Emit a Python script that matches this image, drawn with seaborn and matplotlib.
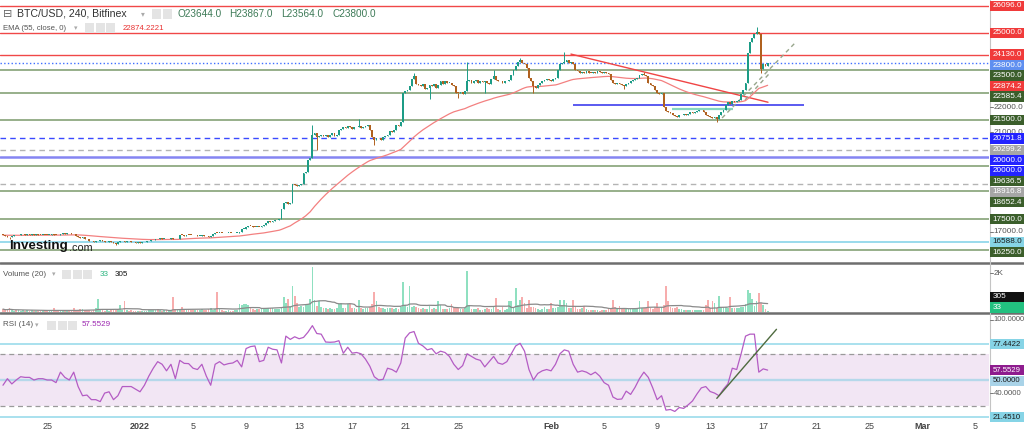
import numpy as np
import pandas as pd
import matplotlib
matplotlib.use("Agg")
import matplotlib.pyplot as plt
import matplotlib.dates as mdates
from matplotlib.patches import Rectangle
from matplotlib.lines import Line2D
import seaborn as sns

# ------------------------------------------------------------------ data
start_time = "2021-12-21 16:00"     # first 4h candle
first_open = 16860

# 4h closes, one row per day
close_rows = [
    [16850, 16830],                                   # Dec 21
    [16790, 16760, 16820, 16850, 16840, 16860],       # Dec 22
    [16880, 16900, 16870, 16890, 16870, 16890],
    [16870, 16880, 16860, 16850, 16870, 16860],
    [16850, 16870, 16880, 16860, 16850, 16840],
    [16880, 16920, 16900, 16950, 16930, 16910],
    [16880, 16820, 16780, 16720, 16760, 16700],
    [16680, 16620, 16600, 16560, 16600, 16620],
    [16640, 16600, 16560, 16580, 16620, 16590],
    [16540, 16500, 16560, 16600, 16610, 16580],
    [16620, 16600, 16580, 16560, 16540, 16560],       # Dec 31
    [16540, 16560, 16580, 16600, 16620, 16640],       # Jan 1
    [16660, 16700, 16680, 16720, 16690, 16700],
    [16680, 16700, 16720, 16690, 16680, 16700],
    [16860, 16850, 16830, 16870, 16860, 16850],
    [16840, 16860, 16820, 16830, 16840, 16820],
    [16800, 16760, 16800, 16900, 16950, 16940],
    [16950, 16940, 16930, 16940, 16950, 16940],
    [16930, 16940, 16960, 17000, 17100, 17120],
    [17200, 17240, 17220, 17200, 17180, 17200],
    [17180, 17210, 17250, 17350, 17420, 17400],
    [17420, 17450, 17470, 17500, 17900, 18150],       # Jan 11
    [18200, 18100, 18150, 18900, 18880, 18850],
    [18870, 18900, 19350, 19400, 19900, 19950],
    [20900, 20950, 20800, 20850, 20900, 20850],
    [20900, 20820, 20880, 20950, 20860, 20900],
    [21100, 21150, 21200, 21170, 21250, 21200],
    [21150, 21220, 21200, 21250, 21180, 21200],
    [21250, 21300, 21100, 20800, 20700, 20780],
    [20750, 20700, 20800, 20850, 20900, 21050],
    [21000, 21100, 21300, 21250, 21400, 22600],
    [22650, 22700, 22850, 23150, 23250, 22950],       # Jan 21
    [22900, 22850, 22950, 22750, 22800, 22900],
    [22850, 22950, 22800, 22900, 23050, 22950],
    [23050, 22980, 23000, 22900, 22850, 22600],
    [22580, 22620, 22560, 22650, 23080, 23100],
    [23000, 23050, 23100, 22980, 23050, 23020],
    [23080, 23000, 22950, 23150, 23250, 23100],
    [23050, 23080, 23000, 23050, 23080, 23100],
    [23300, 23500, 23650, 23850, 23900, 23800],
    [23750, 23600, 23200, 23050, 22850, 22800],
    [22900, 23000, 23050, 23100, 23150, 23100],       # Jan 31
    [23080, 23150, 23200, 23500, 23750, 23800],       # Feb 1
    [23850, 23900, 23800, 23850, 23750, 23500],
    [23450, 23400, 23420, 23380, 23450, 23400],
    [23380, 23420, 23400, 23450, 23420, 23400],
    [23420, 23380, 23350, 23100, 23000, 22950],
    [23000, 22950, 22900, 22850, 22950, 23000],
    [23050, 23100, 23150, 23200, 23300, 23350],
    [23300, 23250, 23000, 22900, 22850, 22700],
    [22600, 22550, 22600, 22000, 21850, 21800],
    [21780, 21700, 21650, 21620, 21680, 21700],       # Feb 10
    [21720, 21700, 21750, 21800, 21780, 21820],
    [21850, 21880, 21900, 21820, 21700, 21650],
    [21600, 21580, 21620, 21550, 21700, 21800],
    [21900, 22100, 22200, 22150, 22250, 22200],
    [22250, 22300, 22550, 22700, 22980, 24200],
    [24650, 24800, 24950, 25050, 24950, 23550],       # Feb 16
    [23750, 23650, 23800],                            # Feb 17
]

wick_high = {
    "2022-01-14 00:00": 21290, "2022-01-17 12:00": 21530,
    "2022-01-21 16:00": 23400, "2022-01-25 16:00": 23830,
    "2022-01-27 16:00": 23510, "2022-01-29 16:00": 23990,
    "2022-02-02 00:00": 24250, "2022-02-08 00:00": 23440,
    "2022-02-16 12:00": 25250,
}
wick_low = {
    "2021-12-22 04:00": 16700, "2021-12-30 04:00": 16460,
    "2022-01-14 08:00": 20300, "2022-01-18 16:00": 20490,
    "2022-01-22 20:00": 22340, "2022-01-25 00:00": 22380,
    "2022-01-27 00:00": 22580, "2022-01-30 16:00": 22580,
    "2022-02-06 12:00": 22750, "2022-02-13 12:00": 21420,
    "2022-02-16 20:00": 23400,
}

# 4h volume, one row per day
volume_rows = [
    [150, 90],
    [120, 200, 80, 60, 110, 90],
    [70, 100, 60, 90, 50, 80],
    [60, 40, 70, 50, 60, 90],
    [50, 80, 60, 180, 70, 60],
    [90, 60, 100, 70, 50, 80],
    [190, 90, 70, 160, 150, 90],
    [80, 120, 60, 100, 210, 680],
    [140, 90, 70, 100, 60, 80],
    [120, 90, 150, 360, 110, 580],
    [90, 60, 80, 50, 70, 60],
    [50, 40, 70, 60, 80, 90],
    [100, 80, 130, 90, 70, 110],
    [90, 120, 80, 750, 140, 100],
    [160, 250, 90, 110, 130, 80],
    [90, 120, 100, 80, 150, 110],
    [100, 140, 180, 120, 160, 1030],
    [150, 90, 70, 60, 80, 70],
    [60, 90, 120, 400, 380, 420],
    [400, 360, 180, 150, 120, 140],
    [130, 160, 150, 180, 190, 220],
    [200, 150, 170, 160, 240, 750],
    [450, 680, 300, 1330, 830, 450],
    [260, 300, 240, 350, 420, 680],
    [2300, 630, 320, 580, 260, 200],
    [180, 150, 220, 140, 160, 190],
    [400, 450, 230, 200, 400, 400],
    [220, 180, 160, 630, 200, 170],
    [180, 210, 260, 400, 1050, 580],
    [240, 180, 200, 160, 190, 230],
    [200, 150, 220, 170, 240, 1530],
    [360, 280, 1310, 270, 330, 260],
    [200, 140, 180, 150, 170, 300],
    [160, 190, 150, 540, 360, 170],
    [140, 160, 180, 400, 200, 210],
    [180, 150, 130, 220, 2100, 360],
    [160, 140, 150, 180, 120, 100],
    [130, 180, 150, 140, 270, 720],
    [160, 120, 270, 100, 130, 540],
    [580, 200, 1220, 360, 630, 780],
    [450, 200, 630, 240, 270, 180],
    [150, 120, 160, 270, 140, 130],
    [450, 180, 200, 240, 630, 360],
    [630, 450, 220, 200, 630, 270],
    [160, 140, 180, 330, 150, 120],
    [100, 80, 110, 90, 70, 100],
    [90, 110, 130, 180, 630, 270],
    [180, 330, 150, 200, 140, 160],
    [150, 130, 170, 190, 540, 200],
    [230, 180, 540, 200, 170, 250],
    [450, 220, 240, 380, 1310, 540],
    [260, 180, 200, 270, 150, 160],
    [110, 90, 120, 100, 80, 90],
    [80, 100, 120, 110, 360, 630],
    [180, 540, 450, 200, 810, 260],
    [240, 280, 200, 750, 220, 230],
    [200, 220, 270, 240, 400, 1130],
    [990, 680, 300, 540, 990, 450],
    [360, 150, 33],
]

# RSI(14) read every 8 hours, one row per day
rsi_rows = [
    [46],
    [51, 47, 50], [52.5, 52, 52], [50, 51, 51], [50, 50, 48], [56, 52, 50],
    [56, 45, 38], [38.5, 35, 35], [33.5, 40, 41], [35, 38, 45], [45, 45, 43],
    [41, 46, 53], [59, 64, 62], [57, 62, 51], [65, 62.7, 62.5], [59, 58, 62],
    [53, 46, 62], [64, 61.5, 62.5], [63, 65, 60], [74, 75.5, 76], [64, 65, 75],
    [73.5, 73, 63], [83.5, 81, 83], [81.5, 82.5, 86.5], [91.5, 85.5, 85],
    [79, 78.8, 79], [80, 70.4, 75], [70.5, 71, 70], [66, 60.5, 52.5],
    [50, 50.5, 59], [58, 56, 63], [82, 86, 87], [78, 76, 73], [74, 70, 72],
    [71, 68, 62], [58, 61, 70], [68, 66, 65], [60, 64, 68], [63, 62, 64],
    [70, 76, 78], [72, 58, 50], [55, 57, 58],
    [57, 62, 70], [73, 72, 62], [56, 57, 56], [54, 56, 53], [48, 46, 37],
    [35.2, 35.5, 41.5], [39, 44.4, 51], [56, 52, 44], [35, 38, 27],
    [27.5, 26, 29], [28.3, 31, 34], [39.3, 44, 45], [41.2, 40, 38],
    [43, 47, 59], [58, 70, 83.5], [85, 85, 56],
    [58.5, 57.5529],
]

ohlc_text = ["O23644.0", "H23867.0", "L23564.0", "C23800.0"]
ema_last = 22874.2221
vol_last, vol_ma_last = 33, 305
rsi_last = 57.5529

# drawn horizontal levels on the price pane
price_levels = [26096, 25000, 24130, 23800, 23500, 22585.4, 21500, 20751.8,
                20299.2, 20000, 19636.5, 18916.8, 18652.4, 17500, 16588, 16250]
price_level_kind = ["red", "red", "red", "bdot", "green", "green", "green", "bdash",
                    "gdash", "blue", "green", "gdash", "green", "green", "cyan", "green"]

# right-hand price tags
price_tags = [26096, 25000, 24130, 23800, 23500, ema_last, 22585.4, 21500, 20751.8,
              20299.2, 20000, 20000, 19636.5, 18916.8, 18652.4, 17500, 16588, 16250]
price_tag_kind = ["red", "red", "red", "last", "dgreen", "red", "dgreen", "dgreen", "blue",
                  "gray", "blue", "blue", "dgreen", "gray", "dgreen", "dgreen", "cyan", "dgreen"]
plain_price_ticks = [22000, 21000, 17000]

# user-drawn objects (date, price)
support_segment = ("2022-02-02 16:00", "2022-02-20 01:00", 22100)
base_segment = ("2022-02-10 03:00", "2022-02-14 17:00", 21925)
falling_trend = [("2022-02-02 12:00", 24150), ("2022-02-17 08:40", 22210)]
rising_dashed = [("2022-02-13 21:30", 21575), ("2022-02-19 09:30", 24597)]
rising_dashed2 = [("2022-02-15 15:00", 22300), ("2022-02-17 12:00", 23388)]
rsi_trend = [("2022-02-13 12:00", 36), ("2022-02-18 00:00", 88.7)]

rsi_lines = [77.4422, 50, 21.451]
rsi_band = (30, 70)

x_tick_dates = ["2021-12-25", "2022-01-01", "2022-01-05", "2022-01-09", "2022-01-13",
                "2022-01-17", "2022-01-21", "2022-01-25", "2022-02-01", "2022-02-05",
                "2022-02-09", "2022-02-13", "2022-02-17", "2022-02-21", "2022-02-25",
                "2022-03-01", "2022-03-05"]
x_tick_labels = ["25", "2022", "5", "9", "13", "17", "21", "25", "Feb", "5", "9", "13",
                 "17", "21", "25", "Mar", "5"]

# ------------------------------------------------------------------ prep
sns.set_style("white")
plt.rcParams["font.family"] = ["Liberation Sans", "DejaVu Sans"]

closes = np.array([v for r in close_rows for v in r], dtype=float)
volumes = np.array([v for r in volume_rows for v in r], dtype=float)
rsi_vals = np.array([v for r in rsi_rows for v in r], dtype=float)
times = pd.date_range(start_time, periods=len(closes), freq="4h")
rsi_times = pd.date_range(start_time, periods=len(rsi_vals), freq="8h")
opens = np.r_[first_open, closes[:-1]]
highs = np.maximum(opens, closes)
lows = np.minimum(opens, closes)
for k, v in wick_high.items():
    i = times.get_loc(pd.Timestamp(k))
    highs[i] = max(highs[i], v)
for k, v in wick_low.items():
    i = times.get_loc(pd.Timestamp(k))
    lows[i] = min(lows[i], v)
bull = closes >= opens
xn = mdates.date2num(times)
rx = mdates.date2num(rsi_times)
ema = pd.Series(closes).ewm(span=55, adjust=False).mean().values
vol_ma = pd.Series(volumes).rolling(20, min_periods=1).mean().values

BULL, BEAR = "#1c9c86", "#b0611f"
VBULL, VBEAR = "#8fe0c0", "#f7adad"

W, H = 1024, 433
fig = plt.figure(figsize=(W / 100, H / 100), dpi=100)
fig.patch.set_facecolor("white")


def rect(x0, y0, x1, y1):
    return [x0 / W, 1 - y1 / H, (x1 - x0) / W, (y1 - y0) / H]


PLOT_R = 989
ax_p = fig.add_axes(rect(0, 0, PLOT_R, 262))
ax_v = fig.add_axes(rect(0, 263, PLOT_R, 312))
ax_r = fig.add_axes(rect(0, 314, PLOT_R, 420))

jan1 = mdates.date2num(pd.Timestamp("2022-01-01"))
PX_DAY = 13.26
xlim = (jan1 - 140 / PX_DAY, jan1 + (PLOT_R - 140) / PX_DAY)
PRICE_PX = 40.3
ylim_p = (25000 - (262 - 33) * PRICE_PX, 25000 + 33 * PRICE_PX)

# ------------------------------------------------------------------ price pane
line_styles = {
    "red": dict(color="#f04848", lw=1.0, ls="-"),
    "bdot": dict(color="#3f6fff", lw=1.0, ls=":"),
    "green": dict(color="#7b9a6b", lw=1.1, ls="-"),
    "bdash": dict(color="#3a4aff", lw=1.0, ls=(0, (4, 3))),
    "gdash": dict(color="#b4b4b4", lw=1.0, ls=(0, (4, 3))),
    "blue": dict(color="#8585f2", lw=1.8, ls="-"),
    "cyan": dict(color="#92d8ea", lw=1.3, ls="-"),
}
for lvl, kind in zip(price_levels, price_level_kind):
    ax_p.axhline(lvl, zorder=1, **line_styles[kind])

d = lambda s: mdates.date2num(pd.Timestamp(s))
ax_p.hlines(support_segment[2], d(support_segment[0]), d(support_segment[1]),
            color="#5a5af0", lw=1.4, zorder=2)
ax_p.hlines(base_segment[2], d(base_segment[0]), d(base_segment[1]),
            color="#86d6c0", lw=1.6, zorder=2)
ax_p.plot([d(p[0]) for p in falling_trend], [p[1] for p in falling_trend],
          color="#f04545", lw=1.0, zorder=2)
ax_p.plot([d(p[0]) for p in rising_dashed], [p[1] for p in rising_dashed],
          color="#98a68c", lw=1.0, ls=(0, (3, 2.5)), zorder=2)
ax_p.plot([d(p[0]) for p in rising_dashed2], [p[1] for p in rising_dashed2],
          color="#98a68c", lw=1.0, ls=(0, (3, 2.5)), zorder=2)

sns.lineplot(x=xn, y=ema, ax=ax_p, color="#f38080", lw=0.9, zorder=3)

cols = np.where(bull, BULL, BEAR)
ax_p.vlines(xn, lows, highs, colors=cols, lw=0.7, zorder=4)
ax_p.bar(xn, np.maximum(np.abs(closes - opens), 30), bottom=np.minimum(opens, closes),
         width=0.135, color=cols, lw=0, zorder=5)

# ------------------------------------------------------------------ volume pane
vcols = np.where(bull, VBULL, VBEAR)
ax_v.bar(xn, volumes, width=0.13, color=vcols, lw=0, zorder=2)
sns.lineplot(x=xn, y=vol_ma, ax=ax_v, color="#8a8a8a", lw=0.9, zorder=3)

# ------------------------------------------------------------------ RSI pane
ax_r.axhspan(*rsi_band, color="#f2e6f4", lw=0, zorder=0)
for lv in rsi_band:
    ax_r.axhline(lv, color="#9a9a9a", lw=0.9, ls=(0, (4, 3)), zorder=1)
ax_r.axhline(rsi_lines[1], color="#b5d8ea", lw=1.7, zorder=1)
for lv in (rsi_lines[0], rsi_lines[2]):
    ax_r.axhline(lv, color="#92d8ea", lw=1.1, zorder=1)
sns.lineplot(x=rx, y=rsi_vals, ax=ax_r, color="#b45cc4", lw=0.9, zorder=3)
ax_r.plot([d(p[0]) for p in rsi_trend], [p[1] for p in rsi_trend],
          color="#4f6b3f", lw=1.0, zorder=4)

# ------------------------------------------------------------------ axes cosmetics
for ax in (ax_p, ax_v, ax_r):
    ax.set_xlim(xlim)
    ax.set_facecolor("white")
    for s in ax.spines.values():
        s.set_visible(False)
    ax.set_yticks([])
    ax.set_ylabel("")
    ax.set_xlabel("")
ax_p.set_ylim(ylim_p)
ax_v.set_ylim(0, 2513)
ax_r.set_ylim(50 - 40 / 1.31, 50 + 66 / 1.31)
ax_p.set_xticks([])
ax_v.set_xticks([])
ax_r.set_xticks([d(t) for t in x_tick_dates])
ax_r.set_xticklabels(x_tick_labels)
ax_r.tick_params(axis="x", length=0, pad=1.5, labelsize=6.5, labelcolor="#444")
for lab in ax_r.get_xticklabels():
    if lab.get_text() in ("2022", "Feb", "Mar"):
        lab.set_fontweight("bold")

# separators
for yy in (262.5, 313.2):
    fig.add_artist(Line2D([0, 1], [1 - yy / H] * 2, transform=fig.transFigure,
                          color="#6e6e6e", lw=1.8, zorder=2))
fig.add_artist(Line2D([(PLOT_R + 0.5) / W] * 2, [1 - 420 / H, 1], transform=fig.transFigure,
                      color="#c4c4c4", lw=0.8, zorder=2))


# ------------------------------------------------------------------ right-hand tags
def ax_py(ax, v):
    return H - ax.transData.transform((xlim[0], v))[1]


TAG = {"red": ("#f03a3a", "white"), "last": ("#5f8ff0", "white"),
       "dgreen": ("#3b5e2b", "white"), "blue": ("#2323ff", "white"),
       "gray": ("#a6a6a6", "white"), "cyan": ("#86d4e6", "#1a1a1a"),
       "black": ("#111111", "white"), "vgreen": ("#22c07f", "white"),
       "purple": ("#8e1c8e", "white"), "lblue": ("#a9d3e8", "#1a1a1a")}


def tag(y, text, kind, fs=5.9):
    fc, tc = TAG[kind]
    fig.add_artist(Rectangle((990 / W, 1 - (y + 5.1) / H), 34 / W, 10.2 / H,
                             transform=fig.transFigure, fc=fc, ec="none", zorder=5))
    fig.text(992.5 / W, 1 - y / H, text, fontsize=fs, color=tc, va="center",
             ha="left", zorder=6)


def plain(y, text, fs=5.9):
    fig.add_artist(Line2D([990 / W, 992.5 / W], [1 - y / H] * 2, transform=fig.transFigure,
                          color="#777", lw=0.7, zorder=4))
    fig.text(993.5 / W, 1 - y / H, text, fontsize=fs, color="#555", va="center",
             ha="left", zorder=4)


for v in plain_price_ticks:
    plain(ax_py(ax_p, v), f"{v:.1f}")
prev = -1e9
for v, k in sorted(zip(price_tags, price_tag_kind), key=lambda t: -t[0]):
    y = max(ax_py(ax_p, v), prev + 10.5)
    prev = y
    tag(y, f"{v:.1f}", k)

plain(ax_py(ax_v, 2000), "2K")
y33 = min(ax_py(ax_v, vol_last), 307.5)
tag(y33, f"{vol_last}", "vgreen")
tag(min(ax_py(ax_v, vol_ma_last), y33 - 10.5), f"{vol_ma_last}", "black")

plain(319.5, "100.0000", fs=5.4)
plain(ax_py(ax_r, 40), "40.0000", fs=5.6)
prev = -1e9
for v, k in sorted([(rsi_lines[0], "cyan"), (rsi_last, "purple"), (rsi_lines[1], "lblue"),
                    (rsi_lines[2], "cyan")], key=lambda t: -t[0]):
    y = max(ax_py(ax_r, v), prev + 10.5)
    prev = y
    tag(y, f"{v:.4f}", k, fs=5.6)


# ------------------------------------------------------------------ header texts
def ftxt(x, y, s, **kw):
    fig.text(x / W, 1 - y / H, s, va="center", ha="left", zorder=7, **kw)


def icons(x, y, n):
    for k in range(n):
        fig.add_artist(Rectangle(((x + k * 10.5) / W, 1 - (y + 4.5) / H), 9 / W, 9 / H,
                                 transform=fig.transFigure, fc="#e4e4e4", ec="none",
                                 zorder=6))


ftxt(3, 14, "⊟", fontsize=8, color="#666")
ftxt(17, 14, "BTC/USD, 240, Bitfinex", fontsize=7.6, color="#333")
ftxt(141, 15, "▾", fontsize=5.5, color="#aaa")
icons(152, 14, 2)
for j, s in enumerate(ohlc_text):
    ftxt(178 + j * 51.5, 14, s, fontsize=7.2, color="#3d7a57")

ftxt(3, 28, "EMA (55, close, 0)", fontsize=5.6, color="#555")
ftxt(74, 28.5, "▾", fontsize=5, color="#aaa")
icons(85, 28, 3)
ftxt(123, 28, f"{ema_last:.4f}", fontsize=5.6, color="#e83030")

ftxt(3, 274, "Volume (20)", fontsize=5.8, color="#555")
ftxt(52, 274.5, "▾", fontsize=5, color="#aaa")
icons(62, 274, 3)
ftxt(100, 274, f"{vol_last}", fontsize=5.8, color="#2bb580")
ftxt(115, 274, f"{vol_ma_last}", fontsize=5.8, color="#111")

ftxt(3, 325, "RSI (14)", fontsize=5.8, color="#555")
ftxt(35, 325.5, "▾", fontsize=5, color="#aaa")
icons(47, 325, 3)
ftxt(82, 325, f"{rsi_last:.4f}", fontsize=5.8, color="#9c27b0")

ftxt(9, 246, "Investing", fontsize=9.6, fontweight="bold", color="#111")
ftxt(69, 248, ".com", fontsize=7.8, color="#222")

fig.savefig("out.png", dpi=100, facecolor="white")
